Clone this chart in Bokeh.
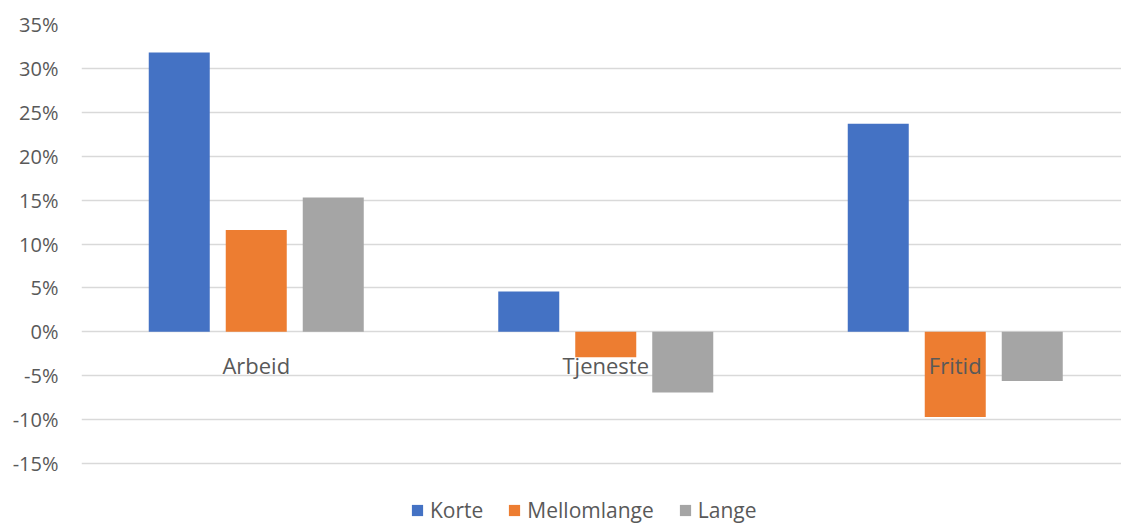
from bokeh.plotting import figure
from bokeh.models import (ColumnDataSource, Range1d, FixedTicker, PrintfTickFormatter,
                          Legend, LegendItem)
from bokeh.transform import dodge
from bokeh.core.properties import value
from bokeh.embed import file_html
from bokeh.resources import INLINE

categories = ["Arbeid", "Tjeneste", "Fritid"]
korte = [31.8, 4.6, 23.7]
mellomlange = [11.6, -2.9, -9.7]
lange = [15.3, -6.9, -5.6]
y_ticks = [-15, -10, -5, 0, 5, 10, 15, 20, 25, 30, 35]

FONT = "Open Sans"
TXT = "#595959"

src = ColumnDataSource(dict(
    x=[i + 0.5 for i in range(len(categories))],
    cat=categories, korte=korte, mellomlange=mellomlange, lange=lange,
    zero=[0] * len(categories),
))

# frame spans full height below the top; gridlines only at the fixed ticks
px_per_unit = 439 / 50
y_start = 35 - 500 / px_per_unit

p = figure(width=1121, height=524, output_backend="svg", toolbar_location=None,
           x_range=Range1d(0, 1040 / 349.5), y_range=Range1d(y_start, 35),
           min_border_left=81, min_border_right=0, min_border_top=24, min_border_bottom=0)
p.outline_line_color = None
p.xaxis.visible = False
p.xgrid.visible = False
p.ygrid.grid_line_color = "#D9D9D9"
p.ygrid.grid_line_width = 1.3
p.yaxis.ticker = FixedTicker(ticks=y_ticks)
p.yaxis.formatter = PrintfTickFormatter(format="%d%%")
p.yaxis.axis_line_color = None
p.yaxis.major_tick_line_color = None
p.yaxis.minor_tick_line_color = None
p.yaxis.major_tick_out = 0
p.yaxis.major_tick_in = 0
p.yaxis.major_label_standoff = 23
p.yaxis.major_label_text_font = FONT
p.yaxis.major_label_text_font_size = "20px"
p.yaxis.major_label_text_color = TXT

w = 61 / 349.5
off = 77 / 349.5
r1 = p.vbar(x=dodge("x", -off), top="korte", bottom=0, width=w, source=src,
            fill_color="#4472C4", line_color=None)
r2 = p.vbar(x=dodge("x", 0), top="mellomlange", bottom=0, width=w, source=src,
            fill_color="#ED7D31", line_color=None)
r3 = p.vbar(x=dodge("x", off), top="lange", bottom=0, width=w, source=src,
            fill_color="#A5A5A5", line_color=None)

p.text(x="x", y="zero", text="cat", source=src, text_font=value(FONT),
       text_font_size="22px", text_color=TXT, text_align="center",
       text_baseline="alphabetic", y_offset=33)

legend = Legend(items=[LegendItem(label="Korte", renderers=[r1]),
                       LegendItem(label="Mellomlange", renderers=[r2]),
                       LegendItem(label="Lange", renderers=[r3])],
                orientation="horizontal", location=(329, 0),
                label_text_font=FONT, label_text_font_size="21px", label_text_color=TXT,
                glyph_width=14, glyph_height=14, label_standoff=6, spacing=24,
                padding=0, margin=0, border_line_color=None, background_fill_alpha=0)
p.add_layout(legend, "center")

open("out.html", "w").write(file_html(p, INLINE))
